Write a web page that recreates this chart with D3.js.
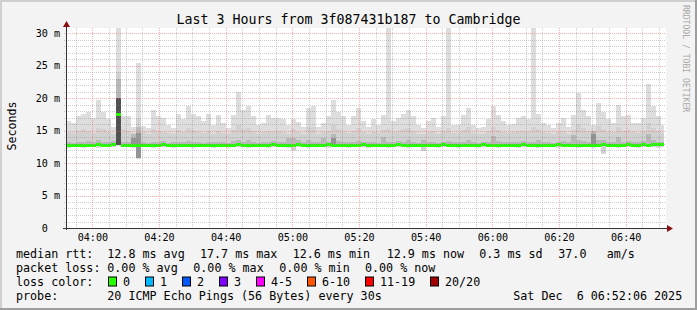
<html>
<head>
  <script src="https://d3js.org/d3.v7.min.js"></script>
  <style>
    body { margin: 0; background: #f3f3f3; }
    text { font-family: "DejaVu Sans Mono", monospace; white-space: pre; }
    .grid line { shape-rendering: crispEdges; }
  </style>
</head>
<body>
<svg id="smoke" width="697" height="310"></svg>

<script>
  // ---- data (milliseconds), one value per 1.5 minute bin ----
  const startTime = new Date(2025, 11, 6, 3, 52, 6);
  const endTime = new Date(2025, 11, 6, 6, 52, 6);
  const dataEnd = new Date(2025, 11, 6, 6, 51, 24);
  const stepMinutes = 1.5;

  const rttMax = [
    16.5, 16.2, 17.3, 17.5, 17.9, 16.9, 19.7, 17.9, 16.8, 15.6, 31, 17.3, 17.3, 15.6, 25.4, 15.7, 15.4, 18.2, 17.2, 16.9, 15.9, 15.4, 17.6, 16.7, 18.7, 17.6, 17.2, 16.4, 17.6, 15.9,
    17.4, 16.2, 15.4, 17.4, 21.0, 18.2, 18.7, 17.2, 15.9, 16.2, 17.4, 16.9, 17.0, 16.7, 15.9, 16.7, 16.3, 15.6, 18.5, 18.7, 15.6, 16.2, 17.2, 19.7, 17.9, 17.2, 15.9, 17.2, 18.5, 16.5,
    15.6, 16.7, 15.9, 17.4, 31, 16.4, 16.9, 17.6, 18.2, 17.2, 15.9, 15.4, 16.4, 16.9, 15.6, 17.2, 31, 15.9, 15.9, 17.4, 18.5, 15.9, 15.4, 15.6, 16.7, 18.7, 17.4, 16.4, 15.9, 16.0,
    16.9, 17.2, 16.7, 31, 17.6, 16.2, 15.9, 15.4, 16.2, 16.9, 15.6, 17.4, 20.8, 18.2, 17.2, 15.9, 19.2, 17.9, 16.7, 16.2, 19.0, 17.2, 17.4, 16.2, 16.2, 16.9, 22.2, 18.7, 17.2, 15.9
  ];
  const rttUpper = [
    14.8, 14.6, 15.0, 15.2, 14.9, 14.6, 15.4, 15.3, 14.8, 14.5, 24.0, 15.2, 15.0, 14.6, 17.0, 14.7, 14.5, 15.3, 15.0, 14.8, 14.6, 14.5, 15.1, 14.7, 15.4, 15.1, 14.9, 14.6, 15.0, 14.5,
    15.0, 14.6, 14.4, 15.1, 15.8, 15.2, 15.4, 14.9, 14.5, 14.7, 15.0, 14.8, 14.9, 14.7, 14.4, 15.2, 14.8, 14.5, 15.5, 15.6, 14.5, 14.7, 15.0, 15.8, 15.3, 15.0, 14.6, 15.0, 15.4, 14.8,
    14.5, 14.8, 14.6, 15.1, 15.3, 14.8, 14.9, 15.2, 15.4, 15.0, 14.5, 14.4, 14.8, 14.9, 14.5, 15.0, 15.4, 14.6, 14.6, 15.1, 15.5, 14.6, 14.4, 14.5, 14.9, 15.6, 15.1, 14.8, 14.6, 14.7,
    14.9, 15.0, 14.8, 15.5, 15.2, 14.7, 14.6, 14.4, 14.7, 14.9, 14.5, 15.1, 16.0, 15.4, 15.0, 14.6, 15.7, 15.3, 14.8, 14.7, 15.6, 15.0, 15.1, 14.7, 14.6, 14.9, 16.2, 15.4, 15.0, 14.6
  ];
  const rttInner = [
    13.2, 13.1, 13.3, 13.2, 13.4, 13.2, 13.5, 13.3, 13.2, 13.4, 23.0, 13.3, 13.2, 14.5, 15.5, 13.2, 13.1, 13.3, 13.2, 13.4, 13.1, 13.2, 13.3, 13.2, 13.4, 13.3, 13.2, 13.1, 13.3, 13.2,
    13.3, 13.2, 13.1, 13.4, 13.6, 13.3, 13.5, 13.2, 13.1, 13.3, 13.2, 13.4, 13.3, 13.2, 13.8, 13.9, 13.6, 13.2, 13.5, 13.3, 13.2, 13.9, 13.3, 14.5, 13.4, 13.2, 13.3, 13.2, 13.4, 13.3,
    13.2, 13.3, 13.1, 14.0, 13.3, 13.2, 13.4, 13.3, 13.5, 13.2, 13.1, 13.6, 13.3, 13.2, 13.1, 13.3, 13.4, 13.2, 13.3, 13.2, 13.5, 13.2, 13.1, 13.3, 13.2, 14.1, 13.4, 13.3, 13.2, 13.3,
    13.3, 13.4, 13.2, 13.3, 13.5, 13.2, 13.3, 13.1, 13.2, 13.4, 13.2, 14.3, 13.6, 13.4, 13.3, 15.0, 13.5, 13.6, 13.3, 13.2, 14.0, 13.3, 13.4, 13.2, 13.3, 13.4, 14.4, 13.5, 13.3, 13.2
  ];
  const rttMedian = [
    12.7, 12.7, 12.8, 12.8, 12.7, 12.8, 12.9, 12.8, 12.8, 12.9, 17.5, 12.8, 12.8, 12.7, 12.8, 12.8, 12.7, 12.8, 12.8, 12.9, 12.7, 12.8, 12.8, 12.8, 12.7, 12.8, 12.8, 12.7, 12.8, 12.8,
    12.8, 12.7, 12.8, 12.8, 12.9, 12.8, 12.8, 12.7, 12.8, 12.8, 12.8, 12.9, 12.8, 12.7, 12.8, 12.8, 12.9, 12.8, 12.8, 12.7, 12.8, 12.8, 12.9, 12.8, 12.8, 12.7, 12.8, 12.8, 12.8, 12.9,
    12.8, 12.8, 12.7, 12.8, 12.8, 12.8, 12.9, 12.8, 12.7, 12.8, 12.8, 12.8, 12.7, 12.8, 12.8, 12.9, 12.8, 12.8, 12.7, 12.8, 12.8, 12.8, 12.8, 12.9, 12.8, 12.8, 12.7, 12.8, 12.8, 12.8,
    12.8, 12.9, 12.8, 12.8, 12.7, 12.8, 12.8, 12.8, 12.9, 12.8, 12.8, 12.7, 12.8, 12.8, 12.8, 12.7, 12.8, 12.9, 12.8, 12.8, 12.8, 12.8, 12.9, 12.8, 12.8, 12.9, 12.8, 12.9, 12.9, 12.9
  ];
  const rttMin = [
    12.3, 12.4, 12.4, 12.3, 12.4, 12.4, 12.3, 12.4, 12.4, 12.4, 12.6, 12.4, 12.4, 12.3, 10.6, 12.4, 12.4, 12.3, 12.4, 12.4, 12.4, 12.3, 12.4, 12.4, 12.4, 12.3, 12.4, 12.4, 12.4, 12.3,
    12.4, 12.4, 12.3, 12.4, 12.4, 12.4, 12.3, 12.4, 12.4, 12.4, 12.3, 12.4, 12.4, 12.4, 12.3, 11.9, 12.4, 12.4, 12.3, 12.4, 12.4, 12.4, 12.3, 12.4, 12.4, 12.4, 12.3, 12.4, 12.4, 12.4,
    12.3, 12.4, 12.4, 12.4, 12.3, 12.4, 12.4, 12.4, 12.3, 12.4, 12.4, 11.8, 12.4, 12.4, 12.3, 12.4, 12.4, 12.4, 12.3, 12.4, 12.4, 12.4, 12.3, 12.4, 12.4, 12.4, 12.3, 12.4, 12.4, 12.4,
    12.3, 12.4, 12.4, 12.4, 12.3, 12.4, 12.4, 12.4, 12.3, 12.4, 12.4, 12.4, 12.3, 12.4, 12.4, 12.3, 12.4, 11.4, 12.4, 12.4, 12.3, 12.4, 12.4, 12.4, 12.3, 12.4, 12.4, 12.4, 12.3, 12.4
  ];
  // darkest smoke (close to the median) in a few bins
  const coreBins = [10, 13, 14, 53, 105];
  const coreTop = [20.0, 13.9, 14.6, 13.8, 14.4];

  const yTicks = [0, 5, 10, 15, 20, 25, 30];
  const lossLabels = ["0", "1", "2", "3", "4-5", "6-10", "11-19", "20/20"];
  const lossColors = ["#26ff00", "#00b8ff", "#0059ff", "#7e00ff", "#ff00ff", "#ff5500", "#ff0000", "#a00000"];

  const titleText = "Last 3 Hours from 3f087431b187 to Cambridge";
  const medianRow = ["median rtt:", "12.8 ms avg", "17.7 ms max", "12.6 ms min", "12.9 ms now", "0.3 ms sd", "37.0", "am/s"];
  const lossRow = ["packet loss:", "0.00 % avg", "0.00 % max", "0.00 % min", "0.00 % now"];
  const probeRow = ["probe:", "20 ICMP Echo Pings (56 Bytes) every 30s", "Sat Dec  6 06:52:06 2025"];

  // ---- layout ----
  const svg = d3.select("svg#smoke");
  const width = +svg.attr("width");
  const height = +svg.attr("height");
  const plot = {left: 66, right: 666, top: 28, bottom: 228};

  const binTime = i => new Date(startTime.getTime() + i * stepMinutes * 60000);
  const data = rttMax.map((m, i) => ({
    i: i, t: binTime(i), t2: i === rttMax.length - 1 ? dataEnd : binTime(i + 1),
    max: m, upper: rttUpper[i], inner: rttInner[i], median: rttMedian[i], min: rttMin[i]
  }));
  const stepData = data.concat([Object.assign({}, data[data.length - 1], {t: dataEnd})]);

  const xScale = d3.scaleTime().domain([startTime, endTime]).range([plot.left, plot.right]);
  const yScale = d3.scaleLinear().domain([0, 200 / 6.5]).range([plot.bottom, plot.top]).clamp(true);

  // background and 3d frame
  svg.append("rect").attr("width", width).attr("height", height).attr("fill", "#f3f3f3");
  svg.append("path").attr("d", `M0,0H${width}V2H2V${height}H0Z`).attr("fill", "#cfcfcf");
  svg.append("path").attr("d", `M${width},0V${height}H0V${height - 2}H${width - 2}V0Z`).attr("fill", "#9e9e9e");
  svg.append("rect").attr("x", plot.left).attr("y", plot.top)
    .attr("width", plot.right - plot.left).attr("height", plot.bottom - plot.top).attr("fill", "#ffffff");

  let chart = svg.append("g").attr("id", "chart").attr("shape-rendering", "crispEdges");

  // smoke layers
  const band = (lo, hi) => d3.area().curve(d3.curveStepAfter)
    .x(d => xScale(d.t)).y0(d => yScale(lo(d))).y1(d => yScale(hi(d)));

  chart.append("path").datum(stepData).attr("fill", "#dddddd")
    .attr("d", band(d => d.min, d => d.max));
  chart.append("path").datum(stepData).attr("fill", "#d1d1d1")
    .attr("d", band(d => d.min + 0.1, d => d.upper));
  chart.append("path").datum(stepData).attr("fill", "#b8b8b8")
    .attr("d", band(d => d.median - 0.2, d => d.inner));

  chart.selectAll("rect.core").data(coreBins).join("rect").attr("class", "core")
    .attr("x", b => xScale(data[b].t))
    .attr("width", b => xScale(data[b].t2) - xScale(data[b].t))
    .attr("y", (b, k) => yScale(coreTop[k]))
    .attr("height", (b, k) => yScale(data[b].min + 0.2) - yScale(coreTop[k]))
    .attr("fill", (b, k) => k === 0 ? "#505050" : "#959595");

  // median: one flat segment per bin, coloured by loss (0 for all)
  chart.selectAll("line.median").data(data).join("line").attr("class", "median")
    .attr("x1", d => xScale(d.t)).attr("x2", d => xScale(d.t2))
    .attr("y1", d => Math.round(yScale(d.median)) + 0.5).attr("y2", d => Math.round(yScale(d.median)) + 0.5)
    .attr("stroke", lossColors[0]).attr("stroke-width", 3);

  // grid
  let grid = svg.append("g").attr("class", "grid");
  const minorColor = "rgba(130,130,130,0.4)";
  const majorColor = "rgba(255,90,90,0.5)";
  const minorY = d3.range(1, 31).filter(v => v % 5 !== 0);
  grid.selectAll("line.minor-y").data(minorY).join("line")
    .attr("class", "minor-y")
    .attr("x1", plot.left - 2).attr("x2", plot.right)
    .attr("y1", d => Math.round(yScale(d)) + 0.5).attr("y2", d => Math.round(yScale(d)) + 0.5)
    .attr("stroke", minorColor).attr("stroke-dasharray", "1,1");
  grid.selectAll("line.major-y").data(yTicks.filter(v => v > 0)).join("line")
    .attr("class", "major-y")
    .attr("x1", plot.left - 2).attr("x2", plot.right)
    .attr("y1", d => Math.round(yScale(d)) + 0.5).attr("y2", d => Math.round(yScale(d)) + 0.5)
    .attr("stroke", majorColor).attr("stroke-dasharray", "1,1");

  const minorX = d3.timeMinute.every(5).range(startTime, endTime).filter(d => d.getMinutes() % 20 !== 0);
  const majorX = d3.timeMinute.every(20).range(startTime, endTime);
  grid.selectAll("line.minor-x").data(minorX).join("line")
    .attr("class", "minor-x")
    .attr("y1", plot.top).attr("y2", plot.bottom + 2)
    .attr("x1", d => Math.round(xScale(d)) + 0.5).attr("x2", d => Math.round(xScale(d)) + 0.5)
    .attr("stroke", minorColor).attr("stroke-dasharray", "1,1");
  grid.selectAll("line.major-x").data(majorX).join("line")
    .attr("class", "major-x")
    .attr("y1", plot.top).attr("y2", plot.bottom + 2)
    .attr("x1", d => Math.round(xScale(d)) + 0.5).attr("x2", d => Math.round(xScale(d)) + 0.5)
    .attr("stroke", majorColor).attr("stroke-dasharray", "1,1");

  // axes lines and arrows
  svg.append("line").attr("x1", plot.left + 0.5).attr("x2", plot.left + 0.5)
    .attr("y1", plot.bottom + 2).attr("y2", plot.top - 4).attr("stroke", "#333");
  svg.append("line").attr("x1", plot.left - 3).attr("x2", plot.right + 4)
    .attr("y1", plot.bottom + 0.5).attr("y2", plot.bottom + 0.5).attr("stroke", "#333");
  svg.append("path").attr("fill", "#8b1010")
    .attr("d", `M${plot.left + 0.5},${plot.top - 7}L${plot.left + 4},${plot.top - 1}L${plot.left - 3},${plot.top - 1}Z`);
  svg.append("path").attr("fill", "#8b1010")
    .attr("d", `M${plot.right + 7},${plot.bottom + 0.5}L${plot.right + 1},${plot.bottom - 3}L${plot.right + 1},${plot.bottom + 4}Z`);

  // tick labels
  let leftAxis = d3.axisLeft(yScale).tickValues(yTicks).tickSize(0).tickPadding(0)
    .tickFormat(d => d === 0 ? "0  " : d + " m");
  svg.append("g").attr("transform", `translate(${plot.left - 6},0)`).call(leftAxis)
    .call(g => g.select(".domain").remove())
    .selectAll("text").attr("font-family", "DejaVu Sans Mono").attr("font-size", "10.1px").attr("fill", "#000");

  let bottomAxis = d3.axisBottom(xScale).tickValues(majorX).tickSize(0).tickPadding(0)
    .tickFormat(d3.timeFormat("%H:%M"));
  svg.append("g").attr("transform", `translate(0,${plot.bottom + 6})`).call(bottomAxis)
    .call(g => g.select(".domain").remove())
    .selectAll("text").attr("font-family", "DejaVu Sans Mono").attr("font-size", "10.1px").attr("fill", "#000");

  // title and labels
  svg.append("text").attr("x", width / 2).attr("y", 24).attr("text-anchor", "middle")
    .attr("font-size", "13.3px").text(titleText);
  svg.append("text").attr("transform", "translate(15.5,126) rotate(-90)").attr("text-anchor", "middle")
    .attr("font-size", "11.6px").text("Seconds");
  svg.append("text").attr("transform", "translate(683,5) rotate(90)")
    .attr("font-size", "8.1px").attr("fill", "#a8a8a8").text("RRDTOOL / TOBI OETIKER");

  // legend
  const legendFont = "11.7px";
  const rowY = [258, 272, 286, 300];
  const medianCols = [16, 107.3, 200, 292.7, 386.7, 479.3, 558.3, 606.7];
  const lossCols = [16, 107.3, 193.3, 279.3, 365];
  let legend = svg.append("g").attr("font-size", legendFont);
  legend.selectAll("text.median").data(medianRow).join("text").attr("class", "median")
    .attr("x", (d, i) => medianCols[i]).attr("y", rowY[0]).text(d => d);
  legend.selectAll("text.loss").data(lossRow).join("text").attr("class", "loss")
    .attr("x", (d, i) => lossCols[i]).attr("y", rowY[1]).text(d => d);
  legend.append("text").attr("x", 16).attr("y", rowY[2]).text("loss color:");

  const boxX = [108.5, 145.5, 182.5, 219.5, 256.5, 307.5, 365.5, 430.5];
  let items = legend.selectAll("g.lossitem").data(lossLabels).join("g").attr("class", "lossitem")
    .attr("transform", (d, i) => `translate(${boxX[i]},0)`);
  items.append("rect").attr("x", 0).attr("y", rowY[2] - 9).attr("width", 8).attr("height", 9)
    .attr("fill", (d, i) => lossColors[i]).attr("stroke", "#000").attr("stroke-width", 1);
  items.append("text").attr("x", 14.5).attr("y", rowY[2]).text(d => d);

  legend.append("text").attr("x", 16).attr("y", rowY[3]).text(probeRow[0]);
  legend.append("text").attr("x", 107.3).attr("y", rowY[3]).text(probeRow[1]);
  legend.append("text").attr("x", 513.3).attr("y", rowY[3]).text(probeRow[2]);
</script>
</body>
</html>
